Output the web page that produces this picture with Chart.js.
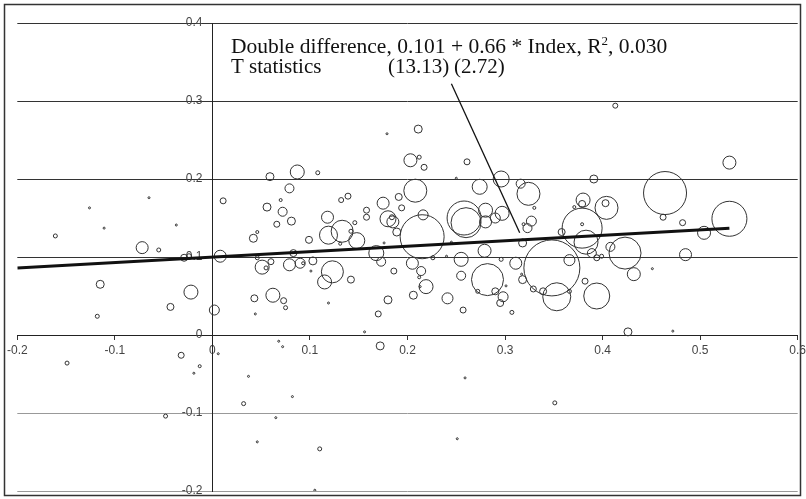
<!DOCTYPE html>
<html><head><meta charset="utf-8">
<script src="https://cdn.jsdelivr.net/npm/chart.js@4/dist/chart.umd.min.js"></script>
<style>html,body{margin:0;padding:0;background:#fff;}#wrap{width:806px;height:499px;position:relative;}</style>
</head><body><div id="wrap"><canvas id="c" width="806" height="499"></canvas></div>
<script>
const bubbleX = [-0.161,-0.126,-0.111,-0.065,-0.037,-0.072,-0.055,-0.029,-0.024,0.008,0.011,-0.115,-0.022,-0.043,0.002,-0.118,0.044,0.043,0.042,0.046,
0.059,0.087,0.108,0.079,0.070,0.056,0.072,0.081,0.066,0.118,0.132,0.139,0.133,0.119,0.148,0.146,0.142,0.131,0.099,0.083,
0.046,0.051,0.055,0.060,0.079,0.090,0.093,0.103,0.101,0.123,0.115,0.142,0.062,0.073,0.075,0.119,0.211,0.179,0.203,0.212,
0.217,0.261,0.250,0.208,0.274,0.296,0.316,0.175,0.191,0.194,0.158,0.158,0.180,0.185,0.184,0.215,0.216,0.189,0.176,0.258,
0.260,0.280,0.280,0.290,0.297,0.245,0.279,0.255,0.318,0.311,0.296,0.240,0.226,0.168,0.173,0.205,0.186,0.214,0.212,0.219,
0.213,0.282,0.272,0.290,0.298,0.295,0.241,0.206,0.180,0.170,0.257,0.307,0.156,0.068,0.072,0.172,0.255,0.301,0.413,0.530,
0.391,0.464,0.324,0.330,0.380,0.379,0.371,0.404,0.403,0.327,0.323,0.319,0.379,0.379,0.358,0.462,0.482,0.530,0.504,0.383,
0.408,0.423,0.389,0.394,0.399,0.485,0.451,0.432,0.348,0.366,0.353,0.394,0.382,0.366,0.339,0.329,0.318,0.317,0.426,0.472,
-0.149,-0.032,-0.013,-0.019,0.006,0.037,0.032,-0.048,0.082,0.065,0.046,0.110,0.105,0.259,0.351,0.251];
const bubbleY = [0.127,0.163,0.137,0.176,0.141,0.112,0.109,0.099,0.101,0.101,0.172,0.065,0.055,0.036,0.032,0.024,0.027,0.047,0.124,0.132,
0.203,0.209,0.208,0.188,0.173,0.164,0.158,0.146,0.142,0.151,0.173,0.178,0.133,0.128,0.121,0.144,0.133,0.117,0.122,0.105,
0.099,0.087,0.086,0.094,0.090,0.092,0.092,0.095,0.082,0.081,0.068,0.071,0.051,0.044,0.035,0.041,0.264,0.258,0.224,0.228,
0.215,0.222,0.201,0.185,0.190,0.200,0.194,0.169,0.177,0.163,0.160,0.151,0.149,0.145,0.151,0.126,0.154,0.132,0.118,0.150,
0.144,0.160,0.145,0.150,0.156,0.119,0.108,0.097,0.118,0.092,0.097,0.101,0.099,0.105,0.094,0.092,0.082,0.082,0.074,0.062,
0.062,0.071,0.056,0.056,0.049,0.041,0.047,0.051,0.045,0.027,0.032,0.029,0.004,-0.008,-0.015,-0.014,0.076,0.063,0.294,0.221,
0.200,0.182,0.181,0.163,0.173,0.168,0.164,0.163,0.169,0.146,0.137,0.142,0.137,0.142,0.132,0.151,0.144,0.149,0.131,0.119,
0.113,0.105,0.105,0.099,0.101,0.103,0.085,0.078,0.086,0.096,0.049,0.050,0.069,0.056,0.056,0.059,0.071,0.078,0.004,0.005,
-0.036,-0.026,-0.040,-0.049,-0.024,-0.053,-0.088,-0.104,-0.079,-0.106,-0.137,-0.146,-0.199,-0.055,-0.087,-0.133];
const bubbleR = [2,1,1,1,1,6,2,3.5,2.5,6,3,4,7,3.5,5,2,1,3.5,4,1.5,
4,7,2,4.5,1.5,4,4.5,4,3,6,2.5,3,11,9,8,2,2,1.5,3.5,3.5,
2,7,2,3,6,5,1.5,4,1,11,7,3.5,7,3,2,1,4,1,6.5,2,
3,3,1,11.5,7.5,8,4.5,6,3.5,3,3,3,8,6,2.5,22,5,4,1,17,
15,7,6,5,7,1,6.5,7,4,6,2,1,2,7.5,4.5,6,3,4.5,1.5,7,
1,16,2,3.5,5,3.5,5.5,4,4,3,3,2,1,1,1,4,4.5,1,2.5,6.5,
4,21.5,11.5,1.5,7,3.5,1.5,11.5,3.5,5,4.5,1.5,20,1.5,3.5,3,3,17.5,6.5,12,
4.5,16,4.5,3,2,6,1,6.5,28,5.5,14,13,3,2,3.5,3,4,1,4,1,
2,3,1.5,1,1,1,2,2,1,1,1,2,1,1,2,1];
const trendX = [-0.2, 0.53];
const trendY = [0.086, 0.137];
const pointerX = [0.245, 0.315];
const pointerY = [0.322, 0.131];
const xTicks = [-0.2,-0.1,0,0.1,0.2,0.3,0.4,0.5,0.6];
const yTicks = [-0.2,-0.1,0,0.1,0.2,0.3,0.4];
const noteLine1 = ['Double difference, 0.101 + 0.66 * Index, R', '2', ', 0.030'];
const noteLine2 = ['T statistics', '(13.13)', '(2.72)'];

const fmt = v => { const r = Math.round(v*10)/10; return r === 0 ? '0' : r.toFixed(1); };
const SERIF = '"Liberation Serif", "Times New Roman", serif';

const framePlugin = {
  id: 'frame',
  beforeDraw(chart) {
    const ctx = chart.ctx;
    ctx.save();
    ctx.fillStyle = '#fff';
    ctx.fillRect(0,0,chart.width,chart.height);
    ctx.strokeStyle = '#333';
    ctx.lineWidth = 1.5;
    ctx.strokeRect(4.5, 4.5, 796, 491);
    ctx.restore();
  },
  afterDraw(chart) {
    const ctx = chart.ctx;
    ctx.save();
    ctx.fillStyle = '#111';
    ctx.textBaseline = 'alphabetic';
    ctx.font = '21.5px ' + SERIF;
    let x = 231;
    ctx.fillText(noteLine1[0], x, 53);
    x += ctx.measureText(noteLine1[0]).width;
    ctx.font = '13px ' + SERIF;
    ctx.fillText(noteLine1[1], x, 45);
    x += ctx.measureText(noteLine1[1]).width;
    ctx.font = '21.5px ' + SERIF;
    ctx.fillText(noteLine1[2], x, 53);
    ctx.font = '21px ' + SERIF;
    ctx.fillText(noteLine2[0], 231, 72.5);
    ctx.fillText(noteLine2[1], 388, 72.5);
    ctx.fillText(noteLine2[2], 454, 72.5);
    ctx.restore();
  }
};

new Chart(document.getElementById('c'), {
  type: 'bubble',
  data: {
    datasets: [
      {
        data: bubbleX.map((x,i) => ({x, y: bubbleY[i], r: bubbleR[i]})),
        backgroundColor: 'rgba(0,0,0,0)',
        borderColor: '#333',
        borderWidth: 1,
        order: 3
      },
      {
        type: 'line',
        data: trendX.map((x,i) => ({x, y: trendY[i]})),
        borderColor: '#111',
        borderWidth: 3,
        pointRadius: 0,
        fill: false,
        order: 1
      },
      {
        type: 'line',
        data: pointerX.map((x,i) => ({x, y: pointerY[i]})),
        borderColor: '#111',
        borderWidth: 1.3,
        pointRadius: 0,
        fill: false,
        order: 2
      }
    ]
  },
  options: {
    responsive: false,
    animation: false,
    events: [],
    layout: { autoPadding: false, padding: { left: 17.3, right: 8.3, top: 23, bottom: 8 } },
    plugins: { legend: { display: false }, tooltip: { enabled: false } },
    scales: {
      x: {
        type: 'linear',
        min: -0.2, max: 0.6,
        position: { y: 0 },
        afterBuildTicks: s => { s.ticks = xTicks.map(v => ({value: v})); },
        afterFit: s => { s.height = 0; s.paddingLeft = 0; s.paddingRight = 0; s.paddingTop = 0; s.paddingBottom = 0; },
        ticks: { callback: v => fmt(v), color: '#444', font: { family: '"Liberation Sans", Arial, sans-serif', size: 12 }, padding: 4, maxRotation: 0, autoSkip: false },
        grid: { drawOnChartArea: false, drawTicks: true, tickLength: 4, color: '#333' },
        border: { display: true, color: '#222', width: 1 }
      },
      y: {
        type: 'linear',
        min: -0.2, max: 0.4,
        position: { x: 0 },
        afterBuildTicks: s => { s.ticks = yTicks.map(v => ({value: v})); },
        afterFit: s => { s.width = 0; s.paddingLeft = 0; s.paddingRight = 0; s.paddingTop = 0; s.paddingBottom = 0; },
        ticks: { callback: v => fmt(v) + '   ', color: '#444', font: { family: '"Liberation Sans", Arial, sans-serif', size: 12 }, autoSkip: false },
        grid: { drawTicks: false, color: c => (c.tick && c.tick.value < 0) ? '#999' : '#333', lineWidth: 1 },
        border: { display: true, color: '#222', width: 1 }
      }
    }
  },
  plugins: [framePlugin]
});
</script></body></html>
